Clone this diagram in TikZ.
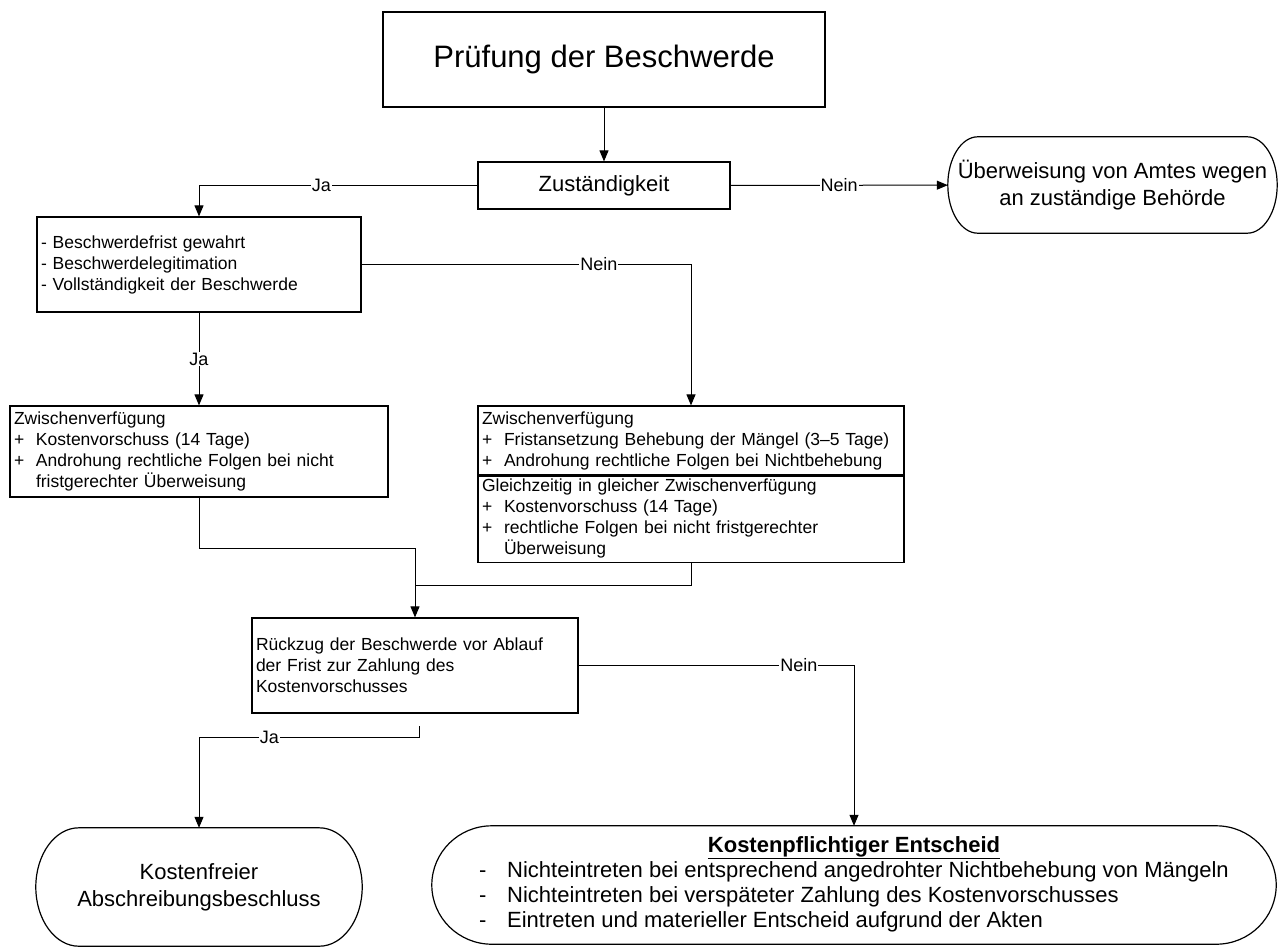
\documentclass[tikz,border=0pt]{standalone}
\usepackage{fontspec}
\setmainfont{Liberation Sans}
\usetikzlibrary{arrows.meta,calc}
% outline of a terminal: flat top and bottom, elliptic ends
\def\termframe(#1)(#2){\draw[line width=1.2pt] let \p1=(#1.north west), \p2=(#1.south east), \n1={(\y1-\y2)/2} in (\x1+#2pt,\y1) -- (\x2-#2pt,\y1) arc[start angle=90,end angle=-90,x radius=#2pt,y radius=\n1] -- (\x1+#2pt,\y2) arc[start angle=270,end angle=90,x radius=#2pt,y radius=\n1] -- cycle;}
\newcommand\pl[1]{\makebox[22pt][l]{+}#1}

\begin{document}
\begin{tikzpicture}[x=1pt,y=-1pt,
	box/.style={draw, line width=1.2pt, rectangle, inner sep=4pt, align=left, font=\fontsize{17.5}{21}\selectfont},
	term/.style={inner sep=0pt, align=center, font=\fontsize{22}{27}\selectfont},
	conn/.style={line width=1pt},
	arr/.style={line width=1pt, -{Triangle[length=11pt,width=9pt]}},
	lbl/.style={fill=white, inner sep=1pt, font=\fontsize{18}{18}\selectfont}]
				\useasboundingbox (0,0) rectangle (1281,948);
				
				\node[box, align=center, minimum width=442pt, minimum height=95pt, font=\fontsize{31}{36}\selectfont] (T) at (604,59.5) {Prüfung der Beschwerde};
				\node[box, align=center, minimum width=252pt, minimum height=47pt, font=\fontsize{22}{26}\selectfont] (Z) at (604,185.5) {Zuständigkeit};
				\node[term, minimum width=329pt, minimum height=96pt] (U) at (1112.5,185) {Überweisung von Amtes wegen\\an zuständige Behörde};
				\termframe(U)(30)
				
				\node[box, text width=316pt, minimum height=95pt] (B) at (199,264.5) {- Beschwerdefrist gewahrt\\- Beschwerdelegitimation\\- Vollständigkeit der Beschwerde};
				
				\node[box, text width=370pt, minimum height=91pt] (C) at (199,451.5) {Zwischenverfügung\\\pl{Kostenvorschuss (14 Tage)}\\\pl{Androhung rechtliche Folgen bei nicht}\\\hspace*{22pt}fristgerechter Überweisung};
				\node[box, text width=418pt, minimum height=70pt] (D1) at (691,441) {Zwischenverfügung\\\pl{Fristansetzung Behebung der Mängel (3–5 Tage)}\\\pl{Androhung rechtliche Folgen bei Nichtbehebung}};
				\node[box, text width=418pt, minimum height=85pt] (D2) at (691,518.5) {Gleichzeitig in gleicher Zwischenverfügung\\\pl{Kostenvorschuss (14 Tage)}\\\pl{rechtliche Folgen bei nicht fristgerechter}\\\hspace*{22pt}Überweisung};
				
				\node[box, text width=318pt, minimum height=95pt] (E) at (415,665.5) {Rückzug der Beschwerde vor Ablauf\\der Frist zur Zahlung des\\Kostenvorschusses};
				
				\node[term, minimum width=326pt, minimum height=118pt] (F) at (199,887) {Kostenfreier\\Abschreibungsbeschluss};
				\termframe(F)(43)
				\node[term, minimum width=844pt, minimum height=118pt, font=\fontsize{22}{25}\selectfont] (G) at (854,885) {\begin{tabular}{@{}p{28pt}@{}l@{}}
						\multicolumn{2}{c}{\textbf{\underline{Kostenpflichtiger Entscheid}}}\\
						- & Nichteintreten bei entsprechend angedrohter Nichtbehebung von Mängeln\\
						- & Nichteintreten bei verspäteter Zahlung des Kostenvorschusses\\
						- & Eintreten und materieller Entscheid aufgrund der Akten
					\end{tabular}};
				\termframe(G)(60)
				
				\coordinate (mC) at (415,548);
				\coordinate (mD) at (415,585);
				\coordinate (jaS) at (419,726);
				
				\draw[arr] (T) -- (Z);
				\draw[arr] (Z) -- node[lbl] (n1) {Nein} (U);
				\draw[arr] (Z.west) -| node[lbl, pos=0.28] (j1) {Ja} (B.north);
				\draw[arr] (B.east) -| node[lbl, pos=0.36] (n2) {Nein} (D1.north);
				\draw[arr] (B) -- node[lbl] (j2) {Ja} (C);
				\draw[conn] (C.south) |- (mC);
				\draw[conn] (D2.south) |- (mD);
				\draw[arr] (mC) -- (E.north);
				\draw[arr] (E.east) -| node[lbl, pos=0.4] (n3) {Nein} (G.north);
				\draw[arr] (jaS) -- ++(0,11) -| node[lbl, pos=0.34] (j3) {Ja} (F.north);
			\end{tikzpicture}
\end{document}
